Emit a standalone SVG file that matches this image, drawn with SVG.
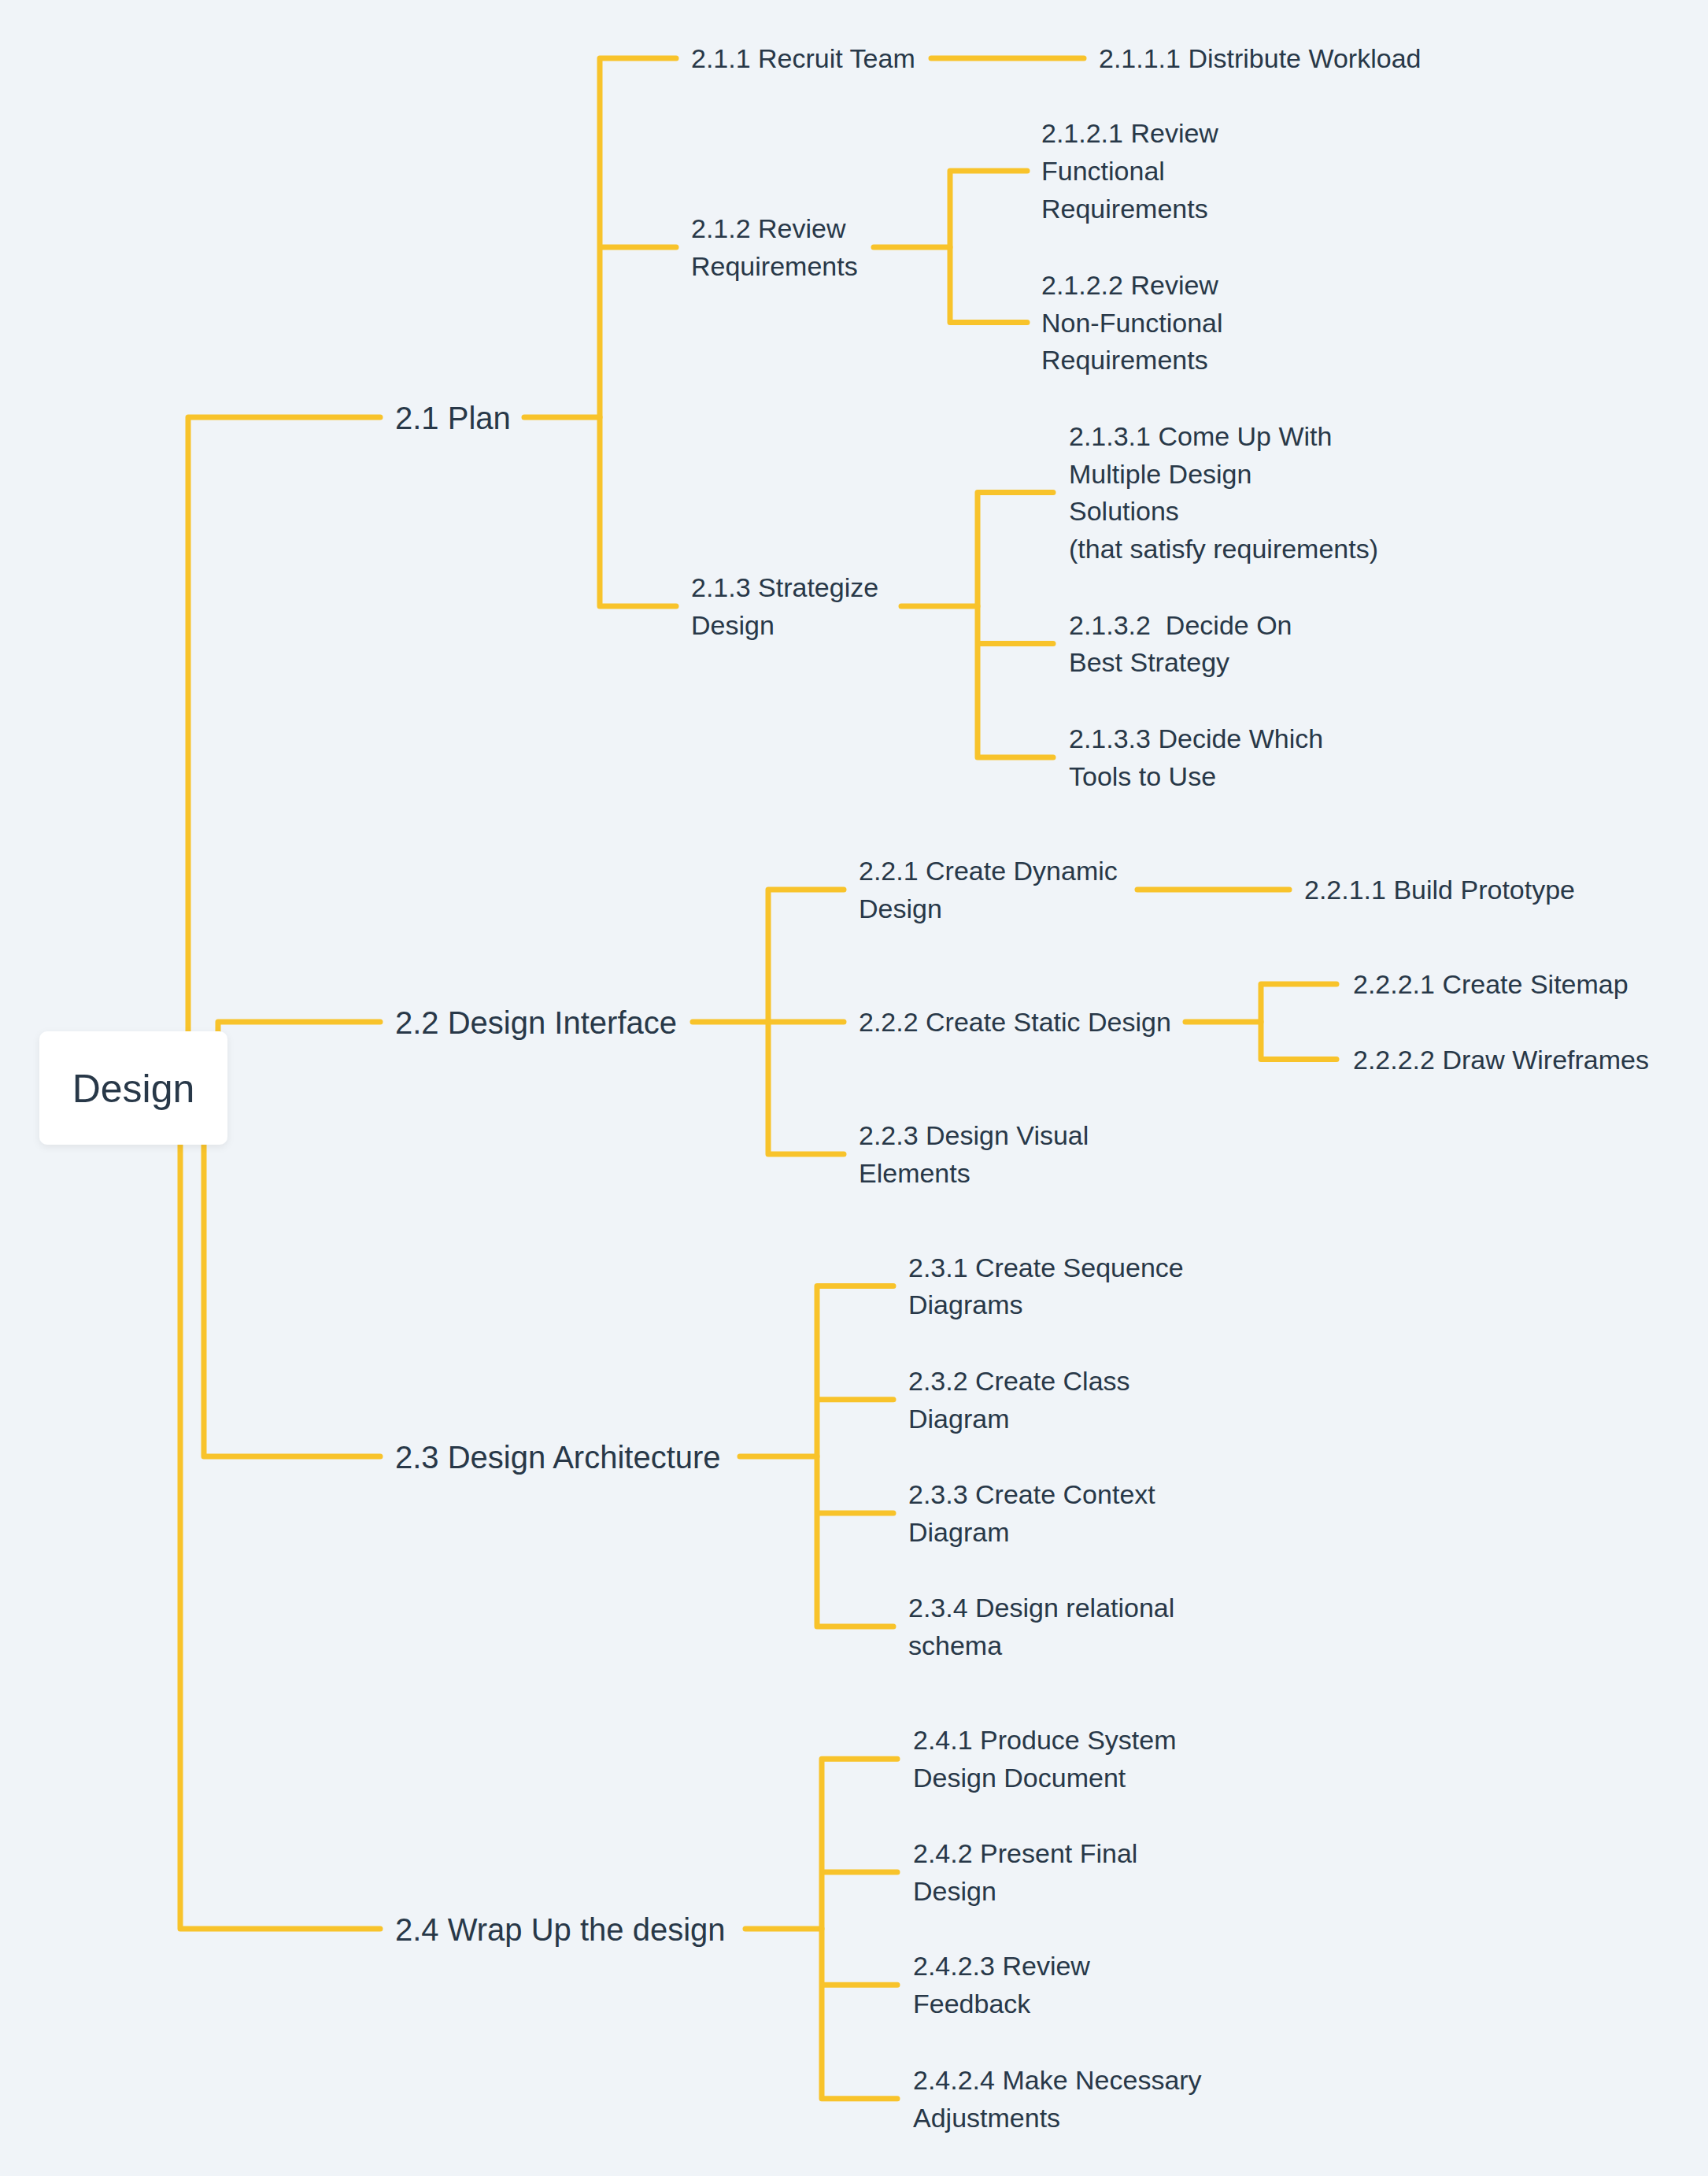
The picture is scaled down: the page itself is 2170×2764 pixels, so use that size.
<svg xmlns="http://www.w3.org/2000/svg" width="2170" height="2764" viewBox="0 0 2170 2764">
<defs>
<style>
.c{fill:none;stroke:#F8C32B;stroke-width:7;stroke-linecap:round;stroke-linejoin:round}
.t{font-family:"Liberation Sans",Arial,sans-serif;fill:#283848}
.l2{font-size:40px}
.l3{font-size:34px}
.root{font-size:50px}
</style>
<filter id="sh" x="-20%" y="-20%" width="140%" height="150%">
<feDropShadow dx="0" dy="3" stdDeviation="5" flood-color="#000" flood-opacity="0.07"/>
</filter>
</defs>
<rect x="0" y="0" width="2170" height="2764" fill="#F0F4F8"/>
<g id="connectors">
<path class="c" d="M239 1382V530H483"/>
<path class="c" d="M277 1382V1298H483"/>
<path class="c" d="M259 1382V1850H483"/>
<path class="c" d="M229 1382V2450H483"/>
<path class="c" d="M666 530H762"/>
<path class="c" d="M859 74H762V770H859M762 314H859"/>
<path class="c" d="M1183 74H1377"/>
<path class="c" d="M1110 314H1207"/>
<path class="c" d="M1305 217H1207V409.5H1305"/>
<path class="c" d="M1145 770H1242"/>
<path class="c" d="M1338 625.5H1242V962H1338M1242 817.6H1338"/>
<path class="c" d="M880 1298H976"/>
<path class="c" d="M1072 1130H976V1466H1072M976 1298H1072"/>
<path class="c" d="M1445 1130H1638"/>
<path class="c" d="M1506 1298H1602"/>
<path class="c" d="M1698 1250H1602V1345.5H1698"/>
<path class="c" d="M940 1850H1038"/>
<path class="c" d="M1135 1633.4H1038V2066H1135M1038 1777.7H1135M1038 1922H1135"/>
<path class="c" d="M947 2450H1044"/>
<path class="c" d="M1140 2234.2H1044V2665.7H1140M1044 2377.9H1140M1044 2521.2H1140"/>
</g>
<g id="root">
<rect x="50" y="1310" width="239" height="144" rx="10" fill="#FFFFFF" filter="url(#sh)"/>
<text class="t root" x="169.5" y="1400" text-anchor="middle">Design</text>
</g>
<g id="n21"><text class="t l2" x="502" y="545">2.1 Plan</text></g>
<g id="n22"><text class="t l2" x="502" y="1313">2.2 Design Interface</text></g>
<g id="n23"><text class="t l2" x="502" y="1865">2.3 Design Architecture</text></g>
<g id="n24"><text class="t l2" x="502" y="2465">2.4 Wrap Up the design</text></g>
<g id="n211"><text class="t l3" x="878" y="86">2.1.1 Recruit Team</text></g>
<g id="n2111"><text class="t l3" x="1396" y="86">2.1.1.1 Distribute Workload</text></g>
<g id="n212"><text class="t l3"><tspan x="878" y="302.2">2.1.2 Review</tspan><tspan x="878" y="349.8">Requirements</tspan></text></g>
<g id="n2121"><text class="t l3"><tspan x="1323" y="181.4">2.1.2.1 Review</tspan><tspan x="1323" y="229">Functional</tspan><tspan x="1323" y="276.6">Requirements</tspan></text></g>
<g id="n2122"><text class="t l3"><tspan x="1323" y="373.9">2.1.2.2 Review</tspan><tspan x="1323" y="421.5">Non-Functional</tspan><tspan x="1323" y="469.1">Requirements</tspan></text></g>
<g id="n213"><text class="t l3"><tspan x="878" y="758.2">2.1.3 Strategize</tspan><tspan x="878" y="805.8">Design</tspan></text></g>
<g id="n2131"><text class="t l3"><tspan x="1358" y="566.1">2.1.3.1 Come Up With</tspan><tspan x="1358" y="613.7">Multiple Design</tspan><tspan x="1358" y="661.3">Solutions</tspan><tspan x="1358" y="708.9">(that satisfy requirements)</tspan></text></g>
<g id="n2132"><text class="t l3"><tspan x="1358" y="805.8">2.1.3.2&#160; Decide On</tspan><tspan x="1358" y="853.4">Best Strategy</tspan></text></g>
<g id="n2133"><text class="t l3"><tspan x="1358" y="950.2">2.1.3.3 Decide Which</tspan><tspan x="1358" y="997.8">Tools to Use</tspan></text></g>
<g id="n221"><text class="t l3"><tspan x="1091" y="1118.2">2.2.1 Create Dynamic</tspan><tspan x="1091" y="1165.8">Design</tspan></text></g>
<g id="n2211"><text class="t l3" x="1657" y="1142">2.2.1.1 Build Prototype</text></g>
<g id="n222"><text class="t l3" x="1091" y="1310">2.2.2 Create Static Design</text></g>
<g id="n2221"><text class="t l3" x="1719" y="1262">2.2.2.1 Create Sitemap</text></g>
<g id="n2222"><text class="t l3" x="1719" y="1357.5">2.2.2.2 Draw Wireframes</text></g>
<g id="n223"><text class="t l3"><tspan x="1091" y="1454.2">2.2.3 Design Visual</tspan><tspan x="1091" y="1501.8">Elements</tspan></text></g>
<g id="n231"><text class="t l3"><tspan x="1154" y="1621.6">2.3.1 Create Sequence</tspan><tspan x="1154" y="1669.2">Diagrams</tspan></text></g>
<g id="n232"><text class="t l3"><tspan x="1154" y="1765.9">2.3.2 Create Class</tspan><tspan x="1154" y="1813.5">Diagram</tspan></text></g>
<g id="n233"><text class="t l3"><tspan x="1154" y="1910.2">2.3.3 Create Context</tspan><tspan x="1154" y="1957.8">Diagram</tspan></text></g>
<g id="n234"><text class="t l3"><tspan x="1154" y="2054.2">2.3.4 Design relational</tspan><tspan x="1154" y="2101.8">schema</tspan></text></g>
<g id="n241"><text class="t l3"><tspan x="1160" y="2222.4">2.4.1 Produce System</tspan><tspan x="1160" y="2270">Design Document</tspan></text></g>
<g id="n242"><text class="t l3"><tspan x="1160" y="2366.1">2.4.2 Present Final</tspan><tspan x="1160" y="2413.7">Design</tspan></text></g>
<g id="n243"><text class="t l3"><tspan x="1160" y="2509.4">2.4.2.3 Review</tspan><tspan x="1160" y="2557">Feedback</tspan></text></g>
<g id="n244"><text class="t l3"><tspan x="1160" y="2653.9">2.4.2.4 Make Necessary</tspan><tspan x="1160" y="2701.5">Adjustments</tspan></text></g>
</svg>
